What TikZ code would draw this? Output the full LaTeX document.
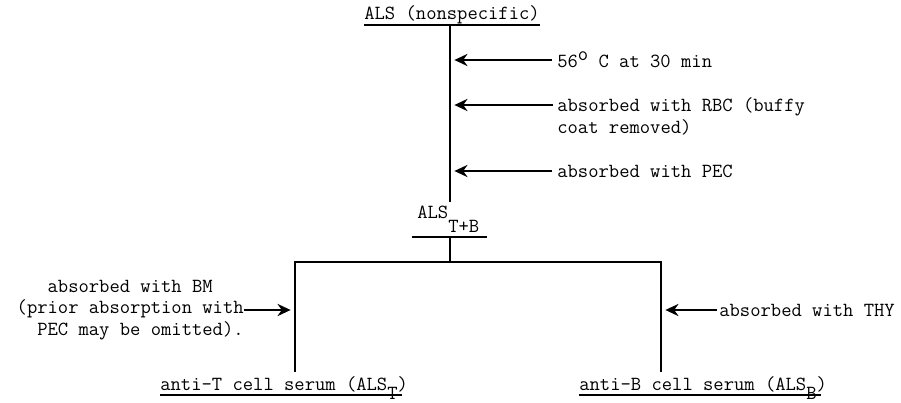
\documentclass[tikz,border=0pt]{standalone}
\usepackage{fontspec}
\usepackage{tikz}
\usetikzlibrary{arrows.meta, positioning, calc}

\begin{document}
\begin{tikzpicture}[
        x=0.02cm, y=-0.02cm,
        lbl/.style={inner sep=0pt, font=\ttfamily\fontsize{11.4}{12.4}\selectfont},
        trunk/.style={line width=1.3pt},
        uline/.style={line width=0.8pt},
        feed/.style={->, line width=0.9pt, shorten >=2.5pt},
        >={Stealth[length=7.5pt, width=7pt, inset=2.5pt]},
    ]
        \useasboundingbox (0,0) rectangle (901,402);

        % serum and its stages
        \node[lbl, anchor=base west] (als)   at (364,20)  {ALS (nonspecific)};
        \node[lbl, anchor=base west] (alstb) at (417,218) {ALS\raisebox{-8pt}{T+B}};
        \node[lbl, anchor=base west] (antiT) at (160,390) {anti-T cell serum (ALS\raisebox{-5.5pt}{T})};
        \node[lbl, anchor=base west] (antiB) at (579,390) {anti-B cell serum (ALS\raisebox{-5.5pt}{B})};

        \draw[uline] ($(als.base west)+(0,5)$)    -- ($(als.base east)+(0,5)$);
        \draw[uline] ($(alstb.base west)+(-5,19)$) -- ($(alstb.base east)+(7,19)$);
        \draw[uline] ($(antiT.base west)+(0,5)$)  -- ($(antiT.base east)+(-6,5)$);
        \draw[uline] ($(antiB.base west)+(0,5)$)  -- ($(antiB.base east)+(-6,5)$);

        % trunk and branches
        \coordinate (t0) at (450,25);
        \coordinate (t1) at (450,202);
        \coordinate (t2) at (450,237);
        \coordinate (j)  at (450,262);
        \coordinate (lt) at (295,262);
        \coordinate (rt) at (661,262);
        \coordinate (lb) at (295,372);
        \coordinate (rb) at (661,372);

        \draw[trunk] (t0) -- (t1);
        \draw[trunk] (t2) -- (j);
        \draw[trunk] (lb) -- (lt) -- (rt) -- (rb);

        % treatments
        \node[lbl, anchor=west] (heat) at (557,60) {56\raisebox{0.8ex}{o} C at 30 min};
        \node[lbl, anchor=north west, align=left] (rbc) at (557,97) {absorbed with RBC (buffy\\coat removed)};
        \node[lbl, anchor=west] (pec) at (557,171) {absorbed with PEC};
        \node[lbl, anchor=east, align=left] (bm) at (244,310)
            {\hphantom{abc}absorbed with BM\\(prior absorption with\\\hphantom{ab}PEC may be omitted).};
        \node[lbl, anchor=west] (thy) at (719,310) {absorbed with THY};

        \draw[feed] ([xshift=-3pt]heat.west) -- (heat.west -| t0);
        \draw[feed] ($(rbc.north west)+(-4,8)$) -- ($(rbc.north west -| t0)+(0,8)$);
        \draw[feed] ([xshift=-3pt]pec.west) -- (pec.west -| t0);
        \draw[feed] (bm.east) -- (bm.east -| lt);
        \draw[feed] ([xshift=-1pt]thy.west) -- (thy.west -| rt);
    \end{tikzpicture}
\end{document}
